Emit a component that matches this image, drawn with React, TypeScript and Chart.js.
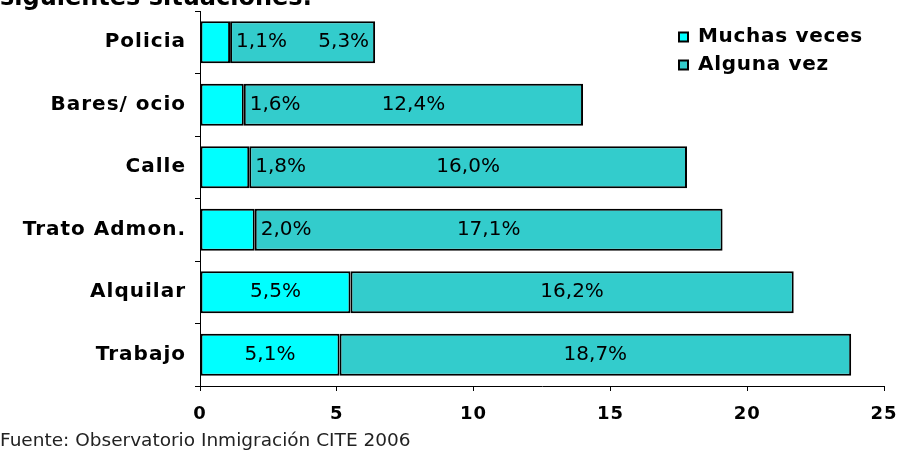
import React, { useEffect, useRef } from "react";
import { Chart, registerables } from "chart.js";

Chart.register(...registerables);

const categories = ["Policia", "Bares/ ocio", "Calle", "Trato Admon.", "Alquilar", "Trabajo"];
const muchasVeces = [1.1, 1.6, 1.8, 2.0, 5.5, 5.1];
const algunaVez = [5.3, 12.4, 16.0, 17.1, 16.2, 18.7];
const seriesNames = ["Muchas veces", "Alguna vez"];
const xMin = 0;
const xMax = 25;
const xStep = 5;
const titleText = "siguientes situaciones:";
const sourceText = "Fuente: Observatorio Inmigración CITE 2006";

const fmt = (v: number) => v.toFixed(1).replace(".", ",") + "%";

const spacingPlugin = {
  id: "letterSpacing",
  beforeDraw(chart: any) {
    (chart.ctx as any).letterSpacing = "1px";
  },
  afterDraw(chart: any) {
    (chart.ctx as any).letterSpacing = "0px";
  },
};

const labelPlugin = {
  id: "barLabels",
  afterDatasetsDraw(chart: any) {
    const ctx = chart.ctx;
    ctx.save();
    (ctx as any).letterSpacing = "0px";
    ctx.font = "20px 'DejaVu Sans'";
    ctx.fillStyle = "#000";
    ctx.textBaseline = "middle";
    const m0 = chart.getDatasetMeta(0);
    const m1 = chart.getDatasetMeta(1);
    for (let i = 0; i < categories.length; i++) {
      const a: any = m0.data[i];
      const b: any = m1.data[i];
      const t0 = fmt(muchasVeces[i]);
      const t1 = fmt(algunaVez[i]);
      const w0 = ctx.measureText(t0).width;
      const w1 = ctx.measureText(t1).width;
      const segW0 = a.x - a.base;
      let right0: number;
      if (segW0 > 2 * w0) {
        ctx.textAlign = "center";
        ctx.fillText(t0, (a.x + a.base) / 2, a.y);
        right0 = a.x;
      } else {
        ctx.textAlign = "left";
        ctx.fillText(t0, a.x + 6, a.y);
        right0 = a.x + 6 + w0;
      }
      const c1 = (b.x + b.base) / 2;
      if (c1 - w1 / 2 < right0 + 10) {
        ctx.textAlign = "right";
        ctx.fillText(t1, b.x - 6, b.y);
      } else {
        ctx.textAlign = "center";
        ctx.fillText(t1, c1, b.y);
      }
    }
    ctx.restore();
  },
};

const legendPlugin = {
  id: "customLegend",
  afterDraw(chart: any) {
    const ctx = chart.ctx;
    ctx.save();
    (ctx as any).letterSpacing = "0.7px";
    ctx.font = "bold 20px 'DejaVu Sans'";
    ctx.textBaseline = "middle";
    ctx.textAlign = "left";
    chart.data.datasets.forEach((ds: any, i: number) => {
      const y = 37 + i * 28;
      ctx.fillStyle = ds.backgroundColor;
      ctx.fillRect(679, y - 4.5, 9, 9);
      ctx.strokeStyle = "#000";
      ctx.lineWidth = 2;
      ctx.strokeRect(679, y - 4.5, 9, 9);
      ctx.fillStyle = "#000";
      ctx.fillText(ds.label, 698, y);
    });
    ctx.restore();
  },
};

export default function App() {
  const ref = useRef<HTMLCanvasElement>(null);
  useEffect(() => {
    document.body.style.margin = "0";
    const chart = new Chart(ref.current!, {
      type: "bar",
      data: {
        labels: categories,
        datasets: [
          {
            label: seriesNames[0],
            data: muchasVeces,
            backgroundColor: "#00FFFF",
            borderColor: "#000",
            borderWidth: 2,
            borderSkipped: false,
            barPercentage: 0.67,
            categoryPercentage: 1,
          },
          {
            label: seriesNames[1],
            data: algunaVez,
            backgroundColor: "#33CCCC",
            borderColor: "#000",
            borderWidth: 2,
            borderSkipped: false,
            barPercentage: 0.67,
            categoryPercentage: 1,
          },
        ],
      },
      options: {
        indexAxis: "y",
        responsive: false,
        animation: false,
        devicePixelRatio: 1,
        layout: { padding: { top: 11, right: 20, left: 0, bottom: 0 } },
        plugins: { legend: { display: false }, tooltip: { enabled: false } },
        scales: {
          x: {
            stacked: true,
            min: xMin,
            max: xMax,
            ticks: {
              stepSize: xStep,
              color: "#000",
              font: { family: "'DejaVu Sans'", size: 18, weight: "bold" },
              padding: 13,
              maxRotation: 0,
            },
            grid: { drawOnChartArea: false, drawTicks: true, tickLength: 5, color: "#000" },
            border: { color: "#000", width: 1 },
            afterFit: (s: any) => {
              s.height = 64;
              s.paddingLeft = 0;
              s.paddingRight = 0;
            },
          },
          y: {
            stacked: true,
            ticks: {
              color: "#000",
              font: { family: "'DejaVu Sans'", size: 20, weight: "bold" },
              padding: 9,
            },
            grid: { offset: true, drawOnChartArea: false, drawTicks: true, tickLength: 5, color: "#000" },
            border: { color: "#000", width: 1 },
            afterFit: (s: any) => {
              s.width = 200;
              s.paddingTop = 0;
              s.paddingBottom = 0;
            },
          },
        },
      },
      plugins: [spacingPlugin, labelPlugin, legendPlugin],
    } as any);
    return () => chart.destroy();
  }, []);
  return (
    <div style={{ position: "relative", width: 904, height: 450, overflow: "hidden", background: "#fff" }}>
      <canvas ref={ref} width={904} height={450} style={{ position: "absolute", left: 0, top: 0 }} />
      <div
        style={{
          position: "absolute",
          left: 0,
          top: -17,
          font: "bold 24px 'DejaVu Sans'",
          color: "#000",
          whiteSpace: "nowrap",
          lineHeight: "28px",
        }}
      >
        {titleText}
      </div>
      <div
        style={{
          position: "absolute",
          left: 0,
          top: 429,
          font: "18.5px 'DejaVu Sans'",
          color: "#222",
          whiteSpace: "nowrap",
          lineHeight: "22px",
        }}
      >
        {sourceText}
      </div>
    </div>
  );
}
